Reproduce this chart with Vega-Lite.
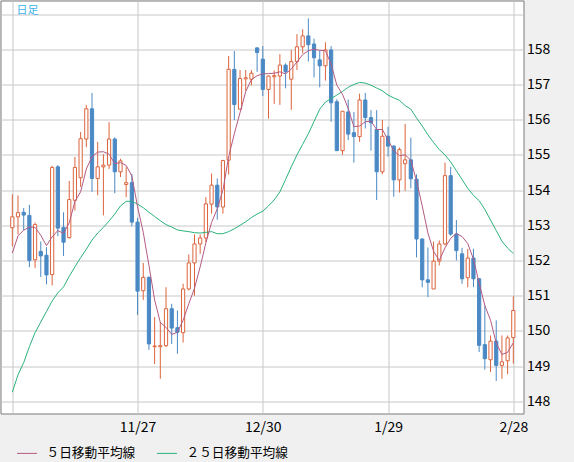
{
  "$schema": "https://vega.github.io/schema/vega-lite/v6.json",
  "width": 523,
  "height": 413,
  "autosize": {"type": "none"},
  "padding": {"left": 0.5, "top": 0.5, "right": 51, "bottom": 49},
  "background": "#f0f0f0",
  "title": {"text": "日足", "anchor": "start", "frame": "group", "orient": "top", "offset": -15, "dx": 16, "fontSize": 11, "fontWeight": "normal", "color": "#3cb4e8", "font": "Noto Sans CJK JP"},
  "config": {
    "view": {"stroke": "#7a7a7a", "strokeWidth": 1, "fill": "#ffffff"},
    "axis": {"gridColor": "#c8c8c8", "gridWidth": 1, "gridOpacity": 1, "labelFont": "Noto Sans CJK JP", "labelFontSize": 14, "labelColor": "#000000", "ticks": false, "domain": false, "title": null, "labelOverlap": false}
  },
  "data": {"values": [
    {"i":0,"d":"2024-10-28","o":152.93,"h":153.88,"l":152.40,"c":153.24,"ma5":152.21,"ma25":148.26},
    {"i":1,"d":"2024-10-29","o":153.24,"h":153.85,"l":152.74,"c":153.36,"ma5":152.70,"ma25":148.75},
    {"i":2,"d":"2024-10-30","o":153.37,"h":153.49,"l":152.86,"c":153.29,"ma5":152.86,"ma25":149.10},
    {"i":3,"d":"2024-10-31","o":153.28,"h":153.58,"l":151.81,"c":152.00,"ma5":152.95,"ma25":149.55},
    {"i":4,"d":"2024-11-01","o":152.02,"h":153.08,"l":151.79,"c":153.02,"ma5":152.94,"ma25":149.95},
    {"i":5,"d":"2024-11-04","o":152.26,"h":152.54,"l":151.53,"c":152.13,"ma5":152.72,"ma25":150.25},
    {"i":6,"d":"2024-11-05","o":152.15,"h":152.38,"l":151.32,"c":151.59,"ma5":152.42,"ma25":150.55},
    {"i":7,"d":"2024-11-06","o":151.60,"h":154.69,"l":151.29,"c":154.64,"ma5":152.67,"ma25":150.85},
    {"i":8,"d":"2024-11-07","o":154.66,"h":154.71,"l":152.69,"c":152.92,"ma5":152.85,"ma25":151.08},
    {"i":9,"d":"2024-11-08","o":152.94,"h":153.37,"l":152.13,"c":152.52,"ma5":152.77,"ma25":151.25},
    {"i":10,"d":"2024-11-11","o":152.65,"h":154.26,"l":152.62,"c":153.73,"ma5":153.07,"ma25":151.55},
    {"i":11,"d":"2024-11-12","o":153.71,"h":154.94,"l":153.42,"c":154.64,"ma5":153.68,"ma25":151.82},
    {"i":12,"d":"2024-11-13","o":154.35,"h":155.65,"l":154.09,"c":155.46,"ma5":153.95,"ma25":152.08},
    {"i":13,"d":"2024-11-14","o":155.45,"h":156.42,"l":155.22,"c":156.31,"ma5":154.60,"ma25":152.32},
    {"i":14,"d":"2024-11-15","o":156.31,"h":156.76,"l":153.95,"c":154.33,"ma5":154.95,"ma25":152.58},
    {"i":15,"d":"2024-11-18","o":154.33,"h":155.37,"l":153.85,"c":154.66,"ma5":155.08,"ma25":152.78},
    {"i":16,"d":"2024-11-19","o":154.66,"h":155.02,"l":153.28,"c":154.71,"ma5":155.09,"ma25":152.94},
    {"i":17,"d":"2024-11-20","o":154.71,"h":155.93,"l":154.60,"c":155.45,"ma5":155.02,"ma25":153.12},
    {"i":18,"d":"2024-11-21","o":155.45,"h":155.50,"l":153.91,"c":154.52,"ma5":154.75,"ma25":153.32},
    {"i":19,"d":"2024-11-22","o":154.52,"h":154.89,"l":154.37,"c":154.83,"ma5":154.78,"ma25":153.55},
    {"i":20,"d":"2024-11-25","o":154.16,"h":154.65,"l":153.80,"c":154.21,"ma5":154.70,"ma25":153.68},
    {"i":21,"d":"2024-11-26","o":154.21,"h":154.46,"l":152.97,"c":153.09,"ma5":154.40,"ma25":153.68},
    {"i":22,"d":"2024-11-27","o":153.09,"h":153.21,"l":150.45,"c":151.13,"ma5":153.53,"ma25":153.60},
    {"i":23,"d":"2024-11-28","o":151.14,"h":151.93,"l":150.88,"c":151.52,"ma5":152.80,"ma25":153.50},
    {"i":24,"d":"2024-11-29","o":151.52,"h":151.55,"l":149.46,"c":149.63,"ma5":151.86,"ma25":153.37},
    {"i":25,"d":"2024-12-02","o":149.55,"h":150.39,"l":149.06,"c":149.57,"ma5":150.88,"ma25":153.25},
    {"i":26,"d":"2024-12-03","o":149.55,"h":150.25,"l":148.64,"c":149.58,"ma5":150.24,"ma25":153.13},
    {"i":27,"d":"2024-12-04","o":149.58,"h":151.24,"l":149.54,"c":150.63,"ma5":150.10,"ma25":153.02},
    {"i":28,"d":"2024-12-05","o":150.63,"h":150.77,"l":149.63,"c":150.08,"ma5":149.90,"ma25":152.95},
    {"i":29,"d":"2024-12-06","o":150.09,"h":150.58,"l":149.35,"c":149.96,"ma5":149.96,"ma25":152.87},
    {"i":30,"d":"2024-12-09","o":149.95,"h":151.34,"l":149.67,"c":151.19,"ma5":150.30,"ma25":152.84},
    {"i":31,"d":"2024-12-10","o":151.19,"h":152.17,"l":151.15,"c":151.93,"ma5":150.77,"ma25":152.82},
    {"i":32,"d":"2024-12-11","o":151.93,"h":152.74,"l":151.00,"c":152.47,"ma5":151.21,"ma25":152.79},
    {"i":33,"d":"2024-12-12","o":152.47,"h":152.74,"l":152.19,"c":152.64,"ma5":151.82,"ma25":152.78},
    {"i":34,"d":"2024-12-13","o":152.64,"h":153.80,"l":152.52,"c":153.61,"ma5":152.50,"ma25":152.80},
    {"i":35,"d":"2024-12-16","o":153.60,"h":154.47,"l":153.33,"c":154.14,"ma5":153.08,"ma25":152.82},
    {"i":36,"d":"2024-12-17","o":154.14,"h":154.33,"l":153.16,"c":153.52,"ma5":153.47,"ma25":152.76},
    {"i":37,"d":"2024-12-18","o":153.52,"h":154.86,"l":153.33,"c":154.84,"ma5":154.00,"ma25":152.76},
    {"i":38,"d":"2024-12-19","o":154.85,"h":157.81,"l":154.44,"c":157.43,"ma5":154.95,"ma25":152.82},
    {"i":39,"d":"2024-12-20","o":157.43,"h":157.95,"l":155.99,"c":156.43,"ma5":155.60,"ma25":152.90},
    {"i":40,"d":"2024-12-23","o":156.30,"h":157.41,"l":156.28,"c":157.17,"ma5":156.20,"ma25":153.00},
    {"i":41,"d":"2024-12-24","o":157.16,"h":157.41,"l":156.82,"c":157.19,"ma5":156.80,"ma25":153.10},
    {"i":42,"d":"2024-12-26","o":157.15,"h":157.41,"l":156.98,"c":157.32,"ma5":157.14,"ma25":153.22},
    {"i":43,"d":"2024-12-27","o":158.04,"h":158.06,"l":157.36,"c":157.91,"ma5":157.25,"ma25":153.32},
    {"i":44,"d":"2024-12-30","o":157.72,"h":158.09,"l":156.67,"c":156.86,"ma5":157.30,"ma25":153.40},
    {"i":45,"d":"2024-12-31","o":156.86,"h":157.26,"l":156.03,"c":157.24,"ma5":157.31,"ma25":153.55},
    {"i":46,"d":"2025-01-01","o":157.22,"h":157.40,"l":156.45,"c":157.25,"ma5":157.32,"ma25":153.72},
    {"i":47,"d":"2025-01-02","o":157.24,"h":157.86,"l":156.42,"c":157.55,"ma5":157.36,"ma25":153.95},
    {"i":48,"d":"2025-01-03","o":157.55,"h":157.60,"l":156.89,"c":157.36,"ma5":157.30,"ma25":154.30},
    {"i":49,"d":"2025-01-06","o":157.15,"h":157.98,"l":156.28,"c":157.65,"ma5":157.44,"ma25":154.66},
    {"i":50,"d":"2025-01-07","o":157.65,"h":158.43,"l":157.41,"c":158.07,"ma5":157.64,"ma25":155.00},
    {"i":51,"d":"2025-01-08","o":158.07,"h":158.57,"l":157.89,"c":158.38,"ma5":157.85,"ma25":155.30},
    {"i":52,"d":"2025-01-09","o":158.38,"h":158.88,"l":157.65,"c":158.13,"ma5":157.96,"ma25":155.60},
    {"i":53,"d":"2025-01-10","o":158.15,"h":158.30,"l":157.20,"c":157.76,"ma5":158.00,"ma25":155.95},
    {"i":54,"d":"2025-01-13","o":157.70,"h":157.96,"l":156.92,"c":157.53,"ma5":157.97,"ma25":156.30},
    {"i":55,"d":"2025-01-14","o":157.53,"h":158.20,"l":157.11,"c":157.98,"ma5":157.96,"ma25":156.50},
    {"i":56,"d":"2025-01-15","o":157.98,"h":158.09,"l":155.94,"c":156.48,"ma5":157.58,"ma25":156.60},
    {"i":57,"d":"2025-01-16","o":156.51,"h":156.58,"l":155.11,"c":155.12,"ma5":156.98,"ma25":156.70},
    {"i":58,"d":"2025-01-17","o":155.12,"h":156.24,"l":155.00,"c":156.24,"ma5":156.72,"ma25":156.80},
    {"i":59,"d":"2025-01-20","o":156.22,"h":156.57,"l":155.42,"c":155.59,"ma5":156.32,"ma25":156.92},
    {"i":60,"d":"2025-01-21","o":155.63,"h":156.22,"l":154.78,"c":155.52,"ma5":155.80,"ma25":157.00},
    {"i":61,"d":"2025-01-22","o":155.52,"h":156.74,"l":155.37,"c":156.56,"ma5":155.82,"ma25":157.06},
    {"i":62,"d":"2025-01-23","o":156.56,"h":156.76,"l":155.75,"c":156.06,"ma5":155.94,"ma25":157.04},
    {"i":63,"d":"2025-01-24","o":156.06,"h":156.27,"l":155.12,"c":155.91,"ma5":155.96,"ma25":156.98},
    {"i":64,"d":"2025-01-27","o":155.72,"h":156.27,"l":153.72,"c":154.52,"ma5":155.72,"ma25":156.90},
    {"i":65,"d":"2025-01-28","o":154.52,"h":155.99,"l":154.45,"c":155.53,"ma5":155.72,"ma25":156.82},
    {"i":66,"d":"2025-01-29","o":155.53,"h":155.80,"l":154.95,"c":155.25,"ma5":155.43,"ma25":156.70},
    {"i":67,"d":"2025-01-30","o":155.25,"h":155.27,"l":153.81,"c":154.29,"ma5":155.12,"ma25":156.62},
    {"i":68,"d":"2025-01-31","o":154.29,"h":155.21,"l":153.93,"c":155.15,"ma5":154.98,"ma25":156.55},
    {"i":69,"d":"2025-02-03","o":154.75,"h":155.88,"l":153.98,"c":154.86,"ma5":155.00,"ma25":156.40},
    {"i":70,"d":"2025-02-04","o":154.86,"h":155.49,"l":154.05,"c":154.32,"ma5":154.85,"ma25":156.30},
    {"i":71,"d":"2025-02-05","o":154.31,"h":154.45,"l":152.09,"c":152.61,"ma5":154.26,"ma25":156.05},
    {"i":72,"d":"2025-02-06","o":152.61,"h":152.63,"l":151.24,"c":151.45,"ma5":153.55,"ma25":155.82},
    {"i":73,"d":"2025-02-07","o":151.45,"h":152.37,"l":150.96,"c":151.38,"ma5":152.78,"ma25":155.57},
    {"i":74,"d":"2025-02-10","o":151.19,"h":152.54,"l":151.19,"c":151.98,"ma5":152.26,"ma25":155.35},
    {"i":75,"d":"2025-02-11","o":151.98,"h":152.57,"l":151.86,"c":152.47,"ma5":152.00,"ma25":155.15},
    {"i":76,"d":"2025-02-12","o":152.47,"h":154.78,"l":152.43,"c":154.41,"ma5":152.36,"ma25":155.00},
    {"i":77,"d":"2025-02-13","o":154.41,"h":154.66,"l":152.70,"c":152.75,"ma5":152.63,"ma25":154.80},
    {"i":78,"d":"2025-02-14","o":152.75,"h":153.15,"l":152.00,"c":152.28,"ma5":152.77,"ma25":154.55},
    {"i":79,"d":"2025-02-17","o":152.19,"h":152.36,"l":151.34,"c":151.48,"ma5":152.68,"ma25":154.30},
    {"i":80,"d":"2025-02-18","o":151.51,"h":152.33,"l":151.24,"c":152.07,"ma5":152.48,"ma25":154.05},
    {"i":81,"d":"2025-02-19","o":152.07,"h":152.33,"l":151.24,"c":151.48,"ma5":152.04,"ma25":153.85},
    {"i":82,"d":"2025-02-20","o":151.48,"h":151.50,"l":149.40,"c":149.59,"ma5":151.36,"ma25":153.70},
    {"i":83,"d":"2025-02-21","o":149.61,"h":150.72,"l":148.90,"c":149.21,"ma5":150.72,"ma25":153.45},
    {"i":84,"d":"2025-02-24","o":149.18,"h":149.87,"l":148.83,"c":149.71,"ma5":150.30,"ma25":153.15},
    {"i":85,"d":"2025-02-25","o":149.71,"h":150.30,"l":148.58,"c":149.02,"ma5":149.66,"ma25":152.85},
    {"i":86,"d":"2025-02-26","o":149.02,"h":149.87,"l":148.64,"c":149.12,"ma5":149.33,"ma25":152.55},
    {"i":87,"d":"2025-02-27","o":149.15,"h":149.87,"l":148.77,"c":149.80,"ma5":149.39,"ma25":152.35},
    {"i":88,"d":"2025-02-28","o":149.81,"h":150.98,"l":149.07,"c":150.58,"ma5":149.66,"ma25":152.20}
  ]},
  "encoding": {
    "x": {"field": "i", "type": "quantitative",
      "scale": {"domain": [-2.073, 89.79], "nice": false, "zero": false, "padding": 0},
      "axis": {"values": [0, 22, 44, 66, 88],
        "labelExpr": "datum.value == 22 ? '11/27' : datum.value == 44 ? '12/30' : datum.value == 66 ? '1/29' : datum.value == 88 ? '2/28' : ''",
        "labelAngle": 0, "labelPadding": 7, "grid": true, "labelOverlap": false, "labelFlush": false, "tickCount": 5}},
    "y": {"type": "quantitative",
      "scale": {"domain": [147.653, 159.386], "nice": false, "zero": false},
      "axis": {"orient": "right", "values": [148,149,150,151,152,153,154,155,156,157,158,159],
        "labelExpr": "datum.value == 159 ? '' : datum.label", "labelPadding": 3, "grid": true,
        "labelOverlap": false, "tickCount": 12}}
  },
  "layer": [
    {
      "mark": {"type": "rule", "strokeWidth": 1},
      "encoding": {
        "y": {"field": "l", "type": "quantitative",
          "axis": {"orient": "right", "values": [148,149,150,151,152,153,154,155,156,157,158,159],
            "labelExpr": "datum.value == 159 ? '' : datum.label", "labelPadding": 3, "grid": true,
            "labelOverlap": false, "tickCount": 12}},
        "y2": {"field": "h"},
        "color": {"condition": {"test": "datum.c >= datum.o", "value": "#dc643c"}, "value": "#4a89c4"}
      }
    },
    {
      "mark": {"type": "bar", "size": 3.2, "strokeWidth": 1},
      "encoding": {
        "y": {"field": "o", "type": "quantitative",
          "axis": {"orient": "right", "values": [148,149,150,151,152,153,154,155,156,157,158,159],
            "labelExpr": "datum.value == 159 ? '' : datum.label", "labelPadding": 3, "grid": true,
            "labelOverlap": false, "tickCount": 12}},
        "y2": {"field": "c"},
        "fill": {"condition": {"test": "datum.c >= datum.o", "value": "#ffffff"}, "value": "#4a89c4"},
        "stroke": {"condition": {"test": "datum.c >= datum.o", "value": "#dc643c"}, "value": "#4a89c4"}
      }
    },
    {
      "transform": [{"fold": ["ma25", "ma5"], "as": ["s", "v"]}],
      "mark": {"type": "line", "strokeWidth": 1},
      "encoding": {
        "y": {"field": "v", "type": "quantitative",
          "axis": {"orient": "right", "values": [148,149,150,151,152,153,154,155,156,157,158,159],
            "labelExpr": "datum.value == 159 ? '' : datum.label", "labelPadding": 3, "grid": true,
            "labelOverlap": false, "tickCount": 12}},
        "color": {"field": "s", "type": "nominal",
          "scale": {"domain": ["ma5", "ma25"], "range": ["#b45a82", "#2ab27a"]},
          "legend": {"orient": "none", "legendX": 16, "legendY": 442, "direction": "horizontal", "title": null,
            "symbolType": "stroke", "symbolSize": 400, "symbolStrokeWidth": 1, "labelFontSize": 12.7,
            "labelFont": "Noto Sans CJK JP", "labelColor": "#000000", "labelOffset": 9, "columnPadding": 19, "padding": 0,
            "labelExpr": "datum.value == 'ma5' ? '５日移動平均線' : '２５日移動平均線'"}}
      }
    }
  ]
}
